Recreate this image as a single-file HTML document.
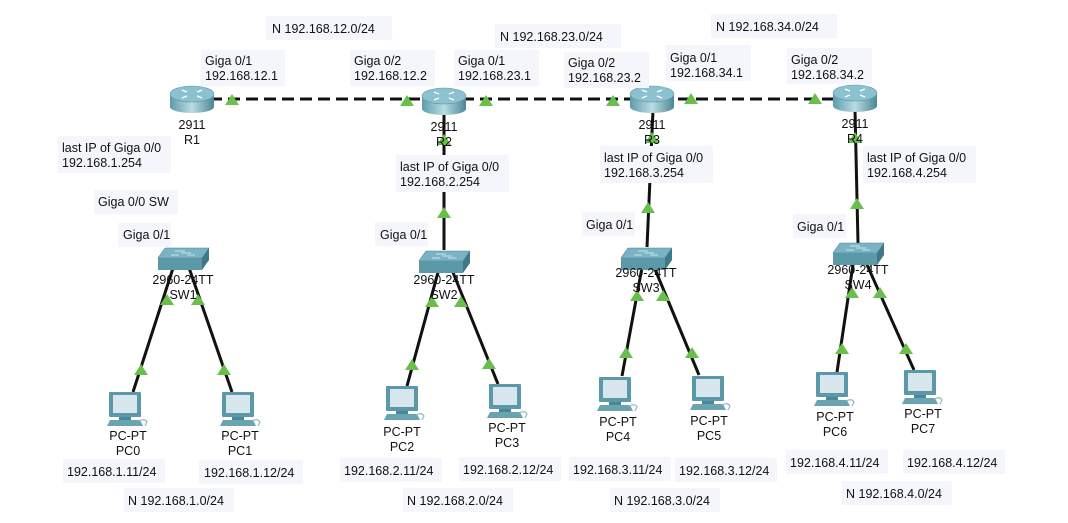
<!DOCTYPE html>
<html><head><meta charset="utf-8"><style>
html,body{margin:0;padding:0;background:#fff;width:1068px;height:523px;overflow:hidden}
text{font-family:"Liberation Sans",sans-serif;font-size:12.5px;fill:#111}
.bg{fill:#f4f6fc}
</style></head><body>
<svg width="1068" height="523" viewBox="0 0 1068 523" xmlns="http://www.w3.org/2000/svg">
<defs>
<linearGradient id="rg" x1="0" x2="1"><stop offset="0" stop-color="#5e9cac"/><stop offset="0.5" stop-color="#b9dce4"/><stop offset="1" stop-color="#4b8797"/></linearGradient>
<g id="router">
<path d="M-22,-5 L-22,8 A22,6 0 0 0 22,8 L22,-5 Z" fill="url(#rg)"/>
<ellipse cx="0" cy="-5" rx="22" ry="8" fill="#8cc2cf" stroke="#5f98a8" stroke-width="0.6"/>
<path d="M-10,-9 l5,2 M10,-9 l-5,2 M-10,-1 l5,-2 M10,-1 l-5,-2" stroke="#fff" stroke-width="1.3"/>
</g>
<g id="sw">
<polygon points="-18,-8 26,-8 19,2 -25,2" fill="#7ab3c3" stroke="#4d8797" stroke-width="0.6"/>
<polygon points="19,2 26,-8 26,4 19,14" fill="#3f7888"/>
<rect x="-25" y="2" width="44" height="12" fill="#5b98a8"/>
<path d="M-8,-5 h10 M-2,-3 h10 M-12,-1 h8 M4,-1 h8" stroke="#e8f4f6" stroke-width="0.8"/>
</g>
<g id="pc">
<rect x="-16" y="0" width="32" height="25" rx="1" fill="#5b98a8"/>
<rect x="-12" y="3" width="24" height="18" fill="#d6e6ec"/>
<rect x="-6" y="25" width="12" height="3" fill="#4a8898"/>
<polygon points="-15,28 15,28 18,34 -18,34" fill="#6aa4b3"/>
<path d="M14,29 q6,-3 8,1 l-2,4" fill="none" stroke="#8fb8c4" stroke-width="1.2"/>
</g>
<polygon id="tri" points="0,-6 7,5 -7,5" fill="#6abf4b"/>
</defs>

<line x1="210" y1="99" x2="835" y2="99" stroke="#111" stroke-width="3" stroke-dasharray="12,6"/>
<g stroke="#111" stroke-width="3">
<line x1="444" y1="110" x2="444" y2="250"/>
<line x1="653" y1="110" x2="647" y2="247"/>
<line x1="855" y1="110" x2="858" y2="243"/>
<line x1="175" y1="262" x2="133" y2="392"/>
<line x1="187" y1="262" x2="232" y2="392"/>
<line x1="440" y1="265" x2="407" y2="386"/>
<line x1="450" y1="265" x2="498" y2="384"/>
<line x1="643" y1="262" x2="622" y2="376"/>
<line x1="652" y1="262" x2="699" y2="375"/>
<line x1="854" y1="258" x2="837" y2="372"/>
<line x1="864" y1="258" x2="914" y2="370"/>
</g>

<use href="#router" x="192" y="99"/>
<use href="#router" x="444" y="101"/>
<use href="#router" x="652" y="99"/>
<use href="#router" x="855" y="98"/>
<use href="#sw" x="183" y="256"/>
<use href="#sw" x="444" y="259"/>
<use href="#sw" x="646" y="256"/>
<use href="#sw" x="858" y="251"/>
<use href="#pc" x="125" y="392"/>
<use href="#pc" x="238" y="392"/>
<use href="#pc" x="402" y="386"/>
<use href="#pc" x="505" y="384"/>
<use href="#pc" x="615" y="377"/>
<use href="#pc" x="708" y="376"/>
<use href="#pc" x="832" y="372"/>
<use href="#pc" x="920" y="370"/>

<use href="#tri" x="232" y="100"/><use href="#tri" x="407" y="101"/>
<use href="#tri" x="486" y="101"/><use href="#tri" x="613" y="101"/>
<use href="#tri" x="691" y="99"/><use href="#tri" x="815" y="99"/>
<use href="#tri" x="444" y="140"/><use href="#tri" x="444" y="213"/>
<use href="#tri" x="652" y="138"/><use href="#tri" x="648" y="208"/>
<use href="#tri" x="855" y="138"/><use href="#tri" x="857" y="204"/>
<use href="#tri" x="167" y="300"/><use href="#tri" x="198" y="300"/>
<use href="#tri" x="141" y="370"/><use href="#tri" x="224" y="370"/>
<use href="#tri" x="432" y="302"/><use href="#tri" x="461" y="302"/>
<use href="#tri" x="412" y="365"/><use href="#tri" x="489" y="364"/>
<use href="#tri" x="637" y="296"/><use href="#tri" x="663" y="296"/>
<use href="#tri" x="626" y="353"/><use href="#tri" x="692" y="353"/>
<use href="#tri" x="852" y="293"/><use href="#tri" x="880" y="293"/>
<use href="#tri" x="842" y="349"/><use href="#tri" x="906" y="349"/>

<g class="bg">
<rect x="266" y="16" width="126" height="24"/>
<rect x="495" y="24" width="126" height="24"/>
<rect x="711" y="14" width="126" height="24"/>
<rect x="201" y="50" width="84" height="36"/>
<rect x="350" y="50" width="85" height="36"/>
<rect x="454" y="50" width="85" height="36"/>
<rect x="564" y="52" width="85" height="36"/>
<rect x="666" y="45" width="85" height="36"/>
<rect x="787" y="48" width="85" height="36"/>
<rect x="58" y="136" width="113" height="37"/>
<rect x="396" y="155" width="113" height="37"/>
<rect x="600" y="146" width="113" height="37"/>
<rect x="863" y="146" width="113" height="37"/>
<rect x="94" y="190" width="84" height="24"/>
<rect x="118" y="223" width="53" height="24"/>
<rect x="375" y="222" width="53" height="24"/>
<rect x="582" y="212" width="53" height="24"/>
<rect x="793" y="214" width="53" height="24"/>
<rect x="63" y="459" width="102" height="24"/>
<rect x="199" y="460" width="104" height="24"/>
<rect x="340" y="458" width="102" height="24"/>
<rect x="459" y="457" width="102" height="24"/>
<rect x="569" y="457" width="102" height="24"/>
<rect x="675" y="458" width="102" height="24"/>
<rect x="786" y="450" width="102" height="24"/>
<rect x="903" y="450" width="102" height="24"/>
<rect x="124" y="488" width="110" height="24"/>
<rect x="403" y="488" width="110" height="24"/>
<rect x="610" y="488" width="110" height="24"/>
<rect x="842" y="481" width="110" height="24"/>
</g>

<text x="272" y="33">N 192.168.12.0/24</text>
<text x="500" y="41">N 192.168.23.0/24</text>
<text x="716" y="31">N 192.168.34.0/24</text>
<text x="205" y="65">Giga 0/1</text><text x="205" y="80">192.168.12.1</text>
<text x="354" y="65">Giga 0/2</text><text x="354" y="80">192.168.12.2</text>
<text x="458" y="65">Giga 0/1</text><text x="458" y="80">192.168.23.1</text>
<text x="568" y="67">Giga 0/2</text><text x="568" y="82">192.168.23.2</text>
<text x="670" y="62">Giga 0/1</text><text x="670" y="77">192.168.34.1</text>
<text x="791" y="64">Giga 0/2</text><text x="791" y="79">192.168.34.2</text>
<text x="62" y="152">last IP of Giga 0/0</text><text x="62" y="167">192.168.1.254</text>
<text x="400" y="171">last IP of Giga 0/0</text><text x="400" y="186">192.168.2.254</text>
<text x="604" y="162">last IP of Giga 0/0</text><text x="604" y="177">192.168.3.254</text>
<text x="867" y="162">last IP of Giga 0/0</text><text x="867" y="177">192.168.4.254</text>
<text x="98" y="206">Giga 0/0 SW</text>
<text x="123" y="239">Giga 0/1</text>
<text x="380" y="239">Giga 0/1</text>
<text x="586" y="229">Giga 0/1</text>
<text x="797" y="231">Giga 0/1</text>

<g text-anchor="middle">
<text x="192" y="129">2911</text><text x="192" y="144">R1</text>
<text x="444" y="131">2911</text><text x="444" y="146">R2</text>
<text x="652" y="129">2911</text><text x="652" y="144">R3</text>
<text x="855" y="128">2911</text><text x="855" y="143">R4</text>
<text x="183" y="284">2960-24TT</text><text x="183" y="299">SW1</text>
<text x="444" y="284">2960-24TT</text><text x="444" y="299">SW2</text>
<text x="646" y="277">2960-24TT</text><text x="646" y="292">SW3</text>
<text x="858" y="274">2960-24TT</text><text x="858" y="289">SW4</text>
<text x="128" y="440">PC-PT</text><text x="128" y="455">PC0</text>
<text x="240" y="440">PC-PT</text><text x="240" y="455">PC1</text>
<text x="402" y="436">PC-PT</text><text x="402" y="451">PC2</text>
<text x="507" y="432">PC-PT</text><text x="507" y="447">PC3</text>
<text x="618" y="426">PC-PT</text><text x="618" y="441">PC4</text>
<text x="709" y="425">PC-PT</text><text x="709" y="440">PC5</text>
<text x="835" y="421">PC-PT</text><text x="835" y="436">PC6</text>
<text x="923" y="418">PC-PT</text><text x="923" y="433">PC7</text>
</g>
<text x="67" y="476">192.168.1.11/24</text>
<text x="204" y="477">192.168.1.12/24</text>
<text x="344" y="475">192.168.2.11/24</text>
<text x="463" y="474">192.168.2.12/24</text>
<text x="573" y="474">192.168.3.11/24</text>
<text x="679" y="475">192.168.3.12/24</text>
<text x="790" y="467">192.168.4.11/24</text>
<text x="907" y="467">192.168.4.12/24</text>
<text x="128" y="505">N 192.168.1.0/24</text>
<text x="407" y="505">N 192.168.2.0/24</text>
<text x="614" y="505">N 192.168.3.0/24</text>
<text x="846" y="498">N 192.168.4.0/24</text>
</svg>
</body></html>
